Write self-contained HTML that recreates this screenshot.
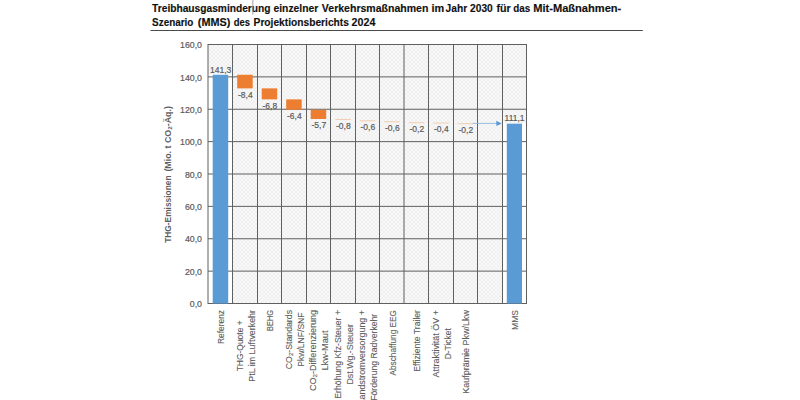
<!DOCTYPE html><html><head><meta charset="utf-8"><style>html,body{margin:0;padding:0;background:#fff;width:800px;height:400px;overflow:hidden}svg{display:block}text{font-family:"Liberation Sans",sans-serif}.t{stroke:#595959;stroke-width:0.18px}.u{stroke:#5d5d5d;stroke-width:0.1px}</style></head><body>
<svg width="800" height="400" viewBox="0 0 800 400">
<defs><pattern id="h" width="4" height="4" patternUnits="userSpaceOnUse" shape-rendering="crispEdges"><rect width="4" height="4" fill="#f9f9f9"/><rect x="0" y="0" width="1" height="1" fill="#efefef"/><rect x="3" y="0" width="1" height="1" fill="#efefef"/><rect x="1" y="1" width="1" height="1" fill="#efefef"/><rect x="2" y="1" width="1" height="1" fill="#efefef"/><rect x="1" y="2" width="1" height="1" fill="#efefef"/><rect x="2" y="2" width="1" height="1" fill="#efefef"/><rect x="0" y="3" width="1" height="1" fill="#efefef"/><rect x="3" y="3" width="1" height="1" fill="#efefef"/></pattern></defs>
<text x="152.10" y="12.0" font-size="11" font-weight="bold" fill="#111" stroke="#111" stroke-width="0.15" textLength="118.40" lengthAdjust="spacingAndGlyphs">Treibhausgasminderung</text>
<text x="273.50" y="12.0" font-size="11" font-weight="bold" fill="#111" stroke="#111" stroke-width="0.15" textLength="44.70" lengthAdjust="spacingAndGlyphs">einzelner</text>
<text x="321.85" y="12.0" font-size="11" font-weight="bold" fill="#111" stroke="#111" stroke-width="0.15" textLength="106.55" lengthAdjust="spacingAndGlyphs">Verkehrsmaßnahmen</text>
<text x="431.60" y="12.0" font-size="11" font-weight="bold" fill="#111" stroke="#111" stroke-width="0.15" textLength="12.70" lengthAdjust="spacingAndGlyphs">im</text>
<text x="445.60" y="12.0" font-size="11" font-weight="bold" fill="#111" stroke="#111" stroke-width="0.15" textLength="21.55" lengthAdjust="spacingAndGlyphs">Jahr</text>
<text x="470.10" y="12.0" font-size="11" font-weight="bold" fill="#111" stroke="#111" stroke-width="0.15" textLength="22.70" lengthAdjust="spacingAndGlyphs">2030</text>
<text x="496.50" y="12.0" font-size="11" font-weight="bold" fill="#111" stroke="#111" stroke-width="0.15" textLength="14.30" lengthAdjust="spacingAndGlyphs">für</text>
<text x="513.35" y="12.0" font-size="11" font-weight="bold" fill="#111" stroke="#111" stroke-width="0.15" textLength="16.95" lengthAdjust="spacingAndGlyphs">das</text>
<text x="533.20" y="12.0" font-size="11" font-weight="bold" fill="#111" stroke="#111" stroke-width="0.15" textLength="88.10" lengthAdjust="spacingAndGlyphs">Mit-Maßnahmen-</text>
<text x="152.10" y="26.2" font-size="11" font-weight="bold" fill="#111" stroke="#111" stroke-width="0.15" textLength="41.30" lengthAdjust="spacingAndGlyphs">Szenario</text>
<text x="197.85" y="26.2" font-size="11" font-weight="bold" fill="#111" stroke="#111" stroke-width="0.15" textLength="32.55" lengthAdjust="spacingAndGlyphs">(MMS)</text>
<text x="233.70" y="26.2" font-size="11" font-weight="bold" fill="#111" stroke="#111" stroke-width="0.15" textLength="16.20" lengthAdjust="spacingAndGlyphs">des</text>
<text x="253.60" y="26.2" font-size="11" font-weight="bold" fill="#111" stroke="#111" stroke-width="0.15" textLength="95.30" lengthAdjust="spacingAndGlyphs">Projektionsberichts</text>
<text x="351.60" y="26.2" font-size="11" font-weight="bold" fill="#111" stroke="#111" stroke-width="0.15" textLength="23.80" lengthAdjust="spacingAndGlyphs">2024</text>
<rect x="150.5" y="30" width="492.3" height="1" fill="#4a4a4a"/>
<rect x="252.4" y="0" width="0.9" height="14.6" fill="#9a9a9a"/>
<rect x="208.0" y="44.5" width="318.5" height="259.0" fill="url(#h)"/>
<rect x="208.0" y="74.27" width="24.5" height="229.23" fill="#fff"/>
<rect x="502.0" y="123.16" width="24.5" height="180.34" fill="#fff"/>
<rect x="208" y="44.000" width="319" height="1" fill="#606060"/>
<rect x="208" y="76.375" width="319" height="1" fill="#606060"/>
<rect x="208" y="108.750" width="319" height="1" fill="#606060"/>
<rect x="208" y="141.125" width="319" height="1" fill="#606060"/>
<rect x="208" y="173.500" width="319" height="1" fill="#606060"/>
<rect x="208" y="205.875" width="319" height="1" fill="#606060"/>
<rect x="208" y="238.250" width="319" height="1" fill="#606060"/>
<rect x="208" y="270.625" width="319" height="1" fill="#606060"/>
<rect x="208" y="303.000" width="319" height="1" fill="#606060"/>
<rect x="207.50" y="44" width="1" height="260" fill="#606060"/>
<rect x="232.00" y="44" width="1" height="260" fill="#606060"/>
<rect x="257.00" y="44" width="1" height="260" fill="#606060"/>
<rect x="281.00" y="44" width="1" height="260" fill="#606060"/>
<rect x="306.00" y="44" width="1" height="260" fill="#606060"/>
<rect x="330.00" y="44" width="1" height="260" fill="#606060"/>
<rect x="355.00" y="44" width="1" height="260" fill="#606060"/>
<rect x="379.00" y="44" width="1" height="260" fill="#606060"/>
<rect x="403.50" y="44" width="1" height="260" fill="#606060"/>
<rect x="428.00" y="44" width="1" height="260" fill="#606060"/>
<rect x="453.00" y="44" width="1" height="260" fill="#606060"/>
<rect x="477.00" y="44" width="1" height="260" fill="#606060"/>
<rect x="502.00" y="44" width="1" height="260" fill="#606060"/>
<rect x="526.00" y="44" width="1" height="260" fill="#606060"/>
<text x="202" y="307.20" font-size="8.8" fill="#595959" class="t" text-anchor="end">0,0</text>
<text x="202" y="274.82" font-size="8.8" fill="#595959" class="t" text-anchor="end">20,0</text>
<text x="202" y="242.45" font-size="8.8" fill="#595959" class="t" text-anchor="end">40,0</text>
<text x="202" y="210.07" font-size="8.8" fill="#595959" class="t" text-anchor="end">60,0</text>
<text x="202" y="177.70" font-size="8.8" fill="#595959" class="t" text-anchor="end">80,0</text>
<text x="202" y="145.32" font-size="8.8" fill="#595959" class="t" text-anchor="end">100,0</text>
<text x="202" y="112.95" font-size="8.8" fill="#595959" class="t" text-anchor="end">120,0</text>
<text x="202" y="80.58" font-size="8.8" fill="#595959" class="t" text-anchor="end">140,0</text>
<text x="202" y="48.20" font-size="8.8" fill="#595959" class="t" text-anchor="end">160,0</text>
<text transform="translate(170.6,242.8) rotate(-90)" font-size="8.6" font-weight="bold" fill="#5f5f5f" textLength="67.3" lengthAdjust="spacingAndGlyphs">THG-Emissionen</text>
<text transform="translate(170.6,171.6) rotate(-90)" font-size="8.6" font-weight="bold" fill="#5f5f5f" textLength="65.5" lengthAdjust="spacingAndGlyphs">(Mio. t CO<tspan font-size="6" dy="1.8">2</tspan><tspan dy="-1.8">-Äq.)</tspan></text>
<rect x="212.70" y="74.77" width="15.5" height="228.73" fill="#5b9bd5"/>
<text x="220.65" y="72.87" font-size="8.5" fill="#595959" class="t" text-anchor="middle">141,3</text>
<rect x="237.20" y="74.77" width="15.5" height="13.60" fill="#ed7d31"/>
<text x="245.35" y="97.57" font-size="8.5" fill="#595959" class="t" text-anchor="middle">-8,4</text>
<rect x="261.70" y="88.37" width="15.5" height="11.01" fill="#ed7d31"/>
<text x="269.85" y="108.58" font-size="8.5" fill="#595959" class="t" text-anchor="middle">-6,8</text>
<rect x="286.20" y="99.38" width="15.5" height="10.36" fill="#ed7d31"/>
<text x="294.35" y="118.94" font-size="8.5" fill="#595959" class="t" text-anchor="middle">-6,4</text>
<rect x="310.70" y="109.74" width="15.5" height="9.23" fill="#ed7d31"/>
<text x="318.85" y="128.16" font-size="8.5" fill="#595959" class="t" text-anchor="middle">-5,7</text>
<rect x="335.20" y="118.96" width="15.5" height="1" fill="#f2cdb2"/>
<text x="343.35" y="129.46" font-size="8.5" fill="#595959" class="t" text-anchor="middle">-0,8</text>
<rect x="359.70" y="120.26" width="15.5" height="1" fill="#f2cdb2"/>
<text x="367.85" y="130.43" font-size="8.5" fill="#595959" class="t" text-anchor="middle">-0,6</text>
<rect x="384.20" y="121.23" width="15.5" height="1" fill="#f2cdb2"/>
<text x="392.35" y="131.40" font-size="8.5" fill="#595959" class="t" text-anchor="middle">-0,6</text>
<rect x="408.70" y="122.20" width="15.5" height="1" fill="#f2cdb2"/>
<text x="416.85" y="131.72" font-size="8.5" fill="#595959" class="t" text-anchor="middle">-0,2</text>
<rect x="433.20" y="122.52" width="15.5" height="1" fill="#f2cdb2"/>
<text x="441.35" y="132.37" font-size="8.5" fill="#595959" class="t" text-anchor="middle">-0,4</text>
<rect x="457.70" y="123.17" width="15.5" height="1" fill="#f2cdb2"/>
<text x="465.85" y="132.69" font-size="8.5" fill="#595959" class="t" text-anchor="middle">-0,2</text>
<rect x="506.80" y="123.66" width="15.2" height="179.84" fill="#5b9bd5"/>
<text x="514.55" y="120.66" font-size="8.5" fill="#595959" class="t" text-anchor="middle">111,1</text>
<line x1="472.7" y1="123.4" x2="497" y2="123.4" stroke="#8fb8e0" stroke-width="0.9"/>
<path d="M496.3 120.7L501.9 123.4L496.3 126.1Z" fill="#5b9bd5"/>
<text transform="translate(224.00,327.00) rotate(-90)" font-size="9.0" fill="#5d5d5d" class="u" text-anchor="middle" textLength="34" lengthAdjust="spacingAndGlyphs">Referenz</text>
<text transform="translate(242.50,345.85) rotate(-90)" font-size="9.0" fill="#5d5d5d" class="u" text-anchor="middle" textLength="50.9" lengthAdjust="spacingAndGlyphs">THG-Quote +</text>
<text transform="translate(254.50,345.85) rotate(-90)" font-size="9.0" fill="#5d5d5d" class="u" text-anchor="middle" textLength="71.7" lengthAdjust="spacingAndGlyphs">PtL im Luftverkehr</text>
<text transform="translate(273.00,320.50) rotate(-90)" font-size="9.0" fill="#5d5d5d" class="u" text-anchor="middle" textLength="21" lengthAdjust="spacingAndGlyphs">BEHG</text>
<text transform="translate(291.50,339.60) rotate(-90)" font-size="9.0" fill="#5d5d5d" class="u" text-anchor="middle" textLength="59.2" lengthAdjust="spacingAndGlyphs">CO<tspan font-size="6.2" dy="1.3">2</tspan><tspan dy="-1.3">-Standards</tspan></text>
<text transform="translate(303.50,339.60) rotate(-90)" font-size="9.0" fill="#5d5d5d" class="u" text-anchor="middle" textLength="54.2" lengthAdjust="spacingAndGlyphs">Pkw/LNF/SNF</text>
<text transform="translate(316.00,350.50) rotate(-90)" font-size="9.0" fill="#5d5d5d" class="u" text-anchor="middle" textLength="81" lengthAdjust="spacingAndGlyphs">CO<tspan font-size="6.2" dy="1.3">2</tspan><tspan dy="-1.3">-Differenzierung</tspan></text>
<text transform="translate(328.00,350.50) rotate(-90)" font-size="9.0" fill="#5d5d5d" class="u" text-anchor="middle" textLength="40.2" lengthAdjust="spacingAndGlyphs">Lkw-Maut</text>
<text transform="translate(340.50,354.35) rotate(-90)" font-size="9.0" fill="#5d5d5d" class="u" text-anchor="middle" textLength="88.7" lengthAdjust="spacingAndGlyphs">Erhöhung Kfz-Steuer +</text>
<text transform="translate(352.50,354.35) rotate(-90)" font-size="9.0" fill="#5d5d5d" class="u" text-anchor="middle" textLength="60.5" lengthAdjust="spacingAndGlyphs">Dst.Wg.-Steuer</text>
<text transform="translate(365.00,357.25) rotate(-90)" font-size="9.0" fill="#5d5d5d" class="u" text-anchor="middle" textLength="94.5" lengthAdjust="spacingAndGlyphs">Landstromversorgung +</text>
<text transform="translate(377.00,357.25) rotate(-90)" font-size="9.0" fill="#5d5d5d" class="u" text-anchor="middle" textLength="87" lengthAdjust="spacingAndGlyphs">Förderung Radverkehr</text>
<text transform="translate(395.50,342.75) rotate(-90)" font-size="9.0" fill="#5d5d5d" class="u" text-anchor="middle" textLength="65.5" lengthAdjust="spacingAndGlyphs">Abschaffung EEG</text>
<text transform="translate(420.00,340.90) rotate(-90)" font-size="9.0" fill="#5d5d5d" class="u" text-anchor="middle" textLength="61.8" lengthAdjust="spacingAndGlyphs">Effiziente Trailer</text>
<text transform="translate(438.50,343.75) rotate(-90)" font-size="9.0" fill="#5d5d5d" class="u" text-anchor="middle" textLength="67.5" lengthAdjust="spacingAndGlyphs">Attraktivität ÖV +</text>
<text transform="translate(450.50,343.75) rotate(-90)" font-size="9.0" fill="#5d5d5d" class="u" text-anchor="middle" textLength="31" lengthAdjust="spacingAndGlyphs">D-Ticket</text>
<text transform="translate(469.00,351.90) rotate(-90)" font-size="9.0" fill="#5d5d5d" class="u" text-anchor="middle" textLength="83.8" lengthAdjust="spacingAndGlyphs">Kaufprämie Pkw/Lkw</text>
<text transform="translate(518.00,320.00) rotate(-90)" font-size="9.0" fill="#5d5d5d" class="u" text-anchor="middle" textLength="20" lengthAdjust="spacingAndGlyphs">MMS</text>
</svg></body></html>
